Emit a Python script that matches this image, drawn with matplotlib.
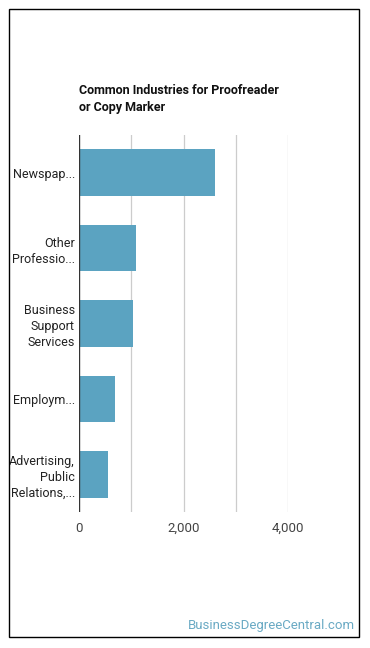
import matplotlib.pyplot as plt
from matplotlib.patches import Rectangle

plt.rcParams['font.family'] = ['Roboto', 'DejaVu Sans']

industries = ["Newspap...", "Other\nProfessio...", "Business\nSupport\nServices",
              "Employm...", "Advertising,\nPublic\nRelations,..."]
employment = [2600, 1090, 1030, 690, 555]
ticks = [0, 2000, 4000]
tick_labels = ["0", "2,000", "4,000"]
grid_at = [1000, 2000, 3000, 4000]

W, H = 370, 648
fig = plt.figure(figsize=(W / 100, H / 100), dpi=100)

# outer frame
fig.patches.append(Rectangle((9 / W, 1 - 637 / H), 350 / W, 628 / H, transform=fig.transFigure,
                             fill=False, edgecolor='black', linewidth=1.0))

ax = fig.add_axes([79 / W, 1 - 512 / H, (288 - 79) / W, (512 - 135) / H])
y = list(range(len(industries)))
ax.barh(y, employment, height=0.62, color='#5ba3c1')
ax.set_ylim(len(industries) - 0.5, -0.5)
ax.set_xlim(0, 4000)
for g in grid_at:
    ax.axvline(g, color='#cccccc', linewidth=0.9, zorder=0)
ax.axvline(0, color='#333333', linewidth=1.0)
ax.set_yticks(y)
ax.set_yticklabels(industries, fontsize=9, color='#222222', linespacing=1.3)
ax.set_xticks(ticks)
ax.set_xticklabels(tick_labels, fontsize=9.5, color='#444444')
ax.tick_params(axis='y', length=0, pad=3)
ax.tick_params(axis='x', length=0, pad=7)
for s in ax.spines.values():
    s.set_visible(False)

fig.text(79 / W, 1 - 99 / H, "Common Industries for Proofreader\nor Copy Marker",
         fontsize=9, fontweight='bold', va='center', ha='left', linespacing=1.35, color='#111111')
fig.text(355 / W, 1 - 626 / H, "BusinessDegreeCentral.com", fontsize=9.5,
         color='#6aaac4', ha='right', va='center')

fig.savefig('out.png', dpi=100, facecolor='white')
